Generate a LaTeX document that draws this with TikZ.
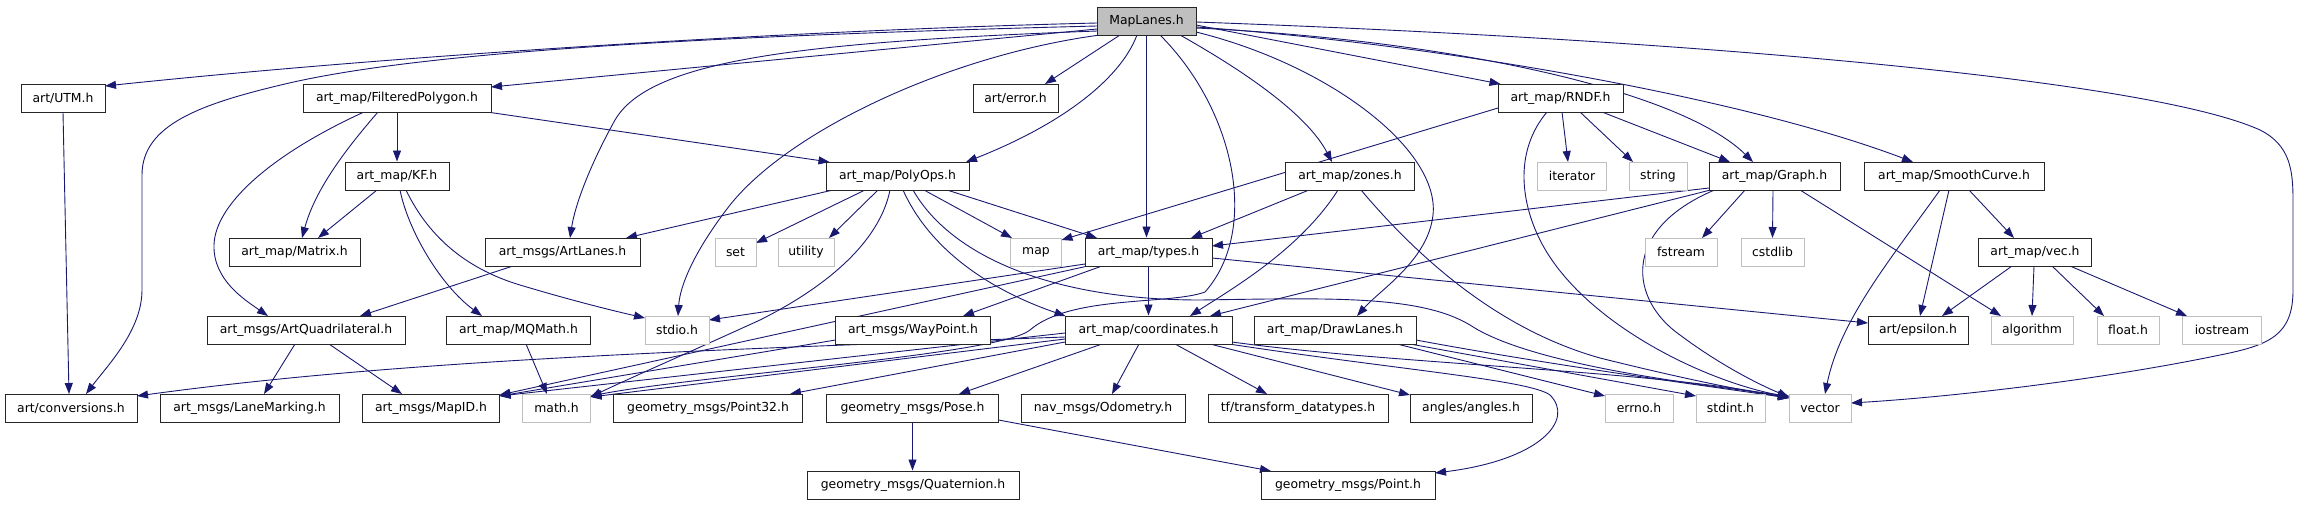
\documentclass[tikz,border=0pt]{standalone}
\usepackage{fontspec}
\setmainfont{DejaVu Sans}
\usetikzlibrary{arrows.meta,calc,backgrounds}
\definecolor{edgeblue}{HTML}{191970}
\definecolor{lightgr}{HTML}{BFBFBF}
\begin{document}
\begin{tikzpicture}[x=1pt,y=-1pt,
 every node/.style={font=\fontsize{12.4}{14}\selectfont},
 hbox/.style={draw=black!85, fill=white, line width=1pt, minimum height=28pt, inner sep=0pt},
 sbox/.style={draw=lightgr, fill=white, line width=1pt, minimum height=28pt, inner sep=0pt},
 rbox/.style={draw=black!85, fill=lightgr, line width=1pt, minimum height=28pt, inner sep=0pt},
 dep/.style={draw=edgeblue, line width=0.9pt, -{Triangle[length=11pt,width=8pt]}}
]
\useasboundingbox (0,0) rectangle (2305,504);
% row 0
\node[rbox, minimum width=99pt] (M) at (1146.5,21) {MapLanes.h};
% row 1
\node[hbox, minimum width=84pt] (utm) at (63,98) {art/UTM.h};
\node[hbox, minimum width=188pt] (fp) at (397,98) {art\_map/FilteredPolygon.h};
\node[hbox, minimum width=85pt] (err) at (1015.5,98) {art/error.h};
\node[hbox, minimum width=125pt] (rndf) at (1560.5,98) {art\_map/RNDF.h};
% row 2
\node[hbox, minimum width=104pt] (kf) at (397,176) {art\_map/KF.h};
\node[hbox, minimum width=143pt] (poly) at (897.5,176) {art\_map/PolyOps.h};
\node[hbox, minimum width=129pt] (zones) at (1350,176) {art\_map/zones.h};
\node[sbox, minimum width=69pt] (iter) at (1572,176) {iterator};
\node[sbox, minimum width=58pt] (string) at (1658,176) {string};
\node[hbox, minimum width=131pt] (graph) at (1774.5,176) {art\_map/Graph.h};
\node[hbox, minimum width=180pt] (sc) at (1954,176) {art\_map/SmoothCurve.h};
% row 3
\node[hbox, minimum width=131pt] (matrix) at (294.5,252) {art\_map/Matrix.h};
\node[hbox, minimum width=155pt] (artlanes) at (562.5,252) {art\_msgs/ArtLanes.h};
\node[sbox, minimum width=41pt] (set) at (735.5,252) {set};
\node[sbox, minimum width=56pt] (utility) at (806,252) {utility};
\node[sbox, minimum width=51pt] (map) at (1036,252) {map};
\node[hbox, minimum width=127pt] (types) at (1148.5,252) {art\_map/types.h};
\node[sbox, minimum width=72pt] (fstream) at (1681,252) {fstream};
\node[sbox, minimum width=63pt] (cstdlib) at (1772.5,252) {cstdlib};
\node[hbox, minimum width=113pt] (vec) at (2035,252) {art\_map/vec.h};
% row 4
\node[hbox, minimum width=198pt] (quad) at (306,330) {art\_msgs/ArtQuadrilateral.h};
\node[hbox, minimum width=144pt] (mqmath) at (518.5,330) {art\_map/MQMath.h};
\node[sbox, minimum width=64pt] (stdio) at (677,330) {stdio.h};
\node[hbox, minimum width=155pt] (waypoint) at (913,330) {art\_msgs/WayPoint.h};
\node[hbox, minimum width=167pt] (coord) at (1148.5,330) {art\_map/coordinates.h};
\node[hbox, minimum width=162pt] (draw) at (1335,330) {art\_map/DrawLanes.h};
\node[hbox, minimum width=100pt] (eps) at (1918,330) {art/epsilon.h};
\node[sbox, minimum width=82pt] (algo) at (2032,330) {algorithm};
\node[sbox, minimum width=62pt] (float) at (2128,330) {float.h};
\node[sbox, minimum width=79pt] (iostream) at (2222,330) {iostream};
% row 5
\node[hbox, minimum width=132pt] (conv) at (71,408) {art/conversions.h};
\node[hbox, minimum width=179pt] (lane) at (249.5,408) {art\_msgs/LaneMarking.h};
\node[hbox, minimum width=137pt] (mapid) at (431,408) {art\_msgs/MapID.h};
\node[sbox, minimum width=68pt] (math) at (556.5,408) {math.h};
\node[hbox, minimum width=189pt] (p32) at (708,408) {geometry\_msgs/Point32.h};
\node[hbox, minimum width=172pt] (pose) at (912.5,408) {geometry\_msgs/Pose.h};
\node[hbox, minimum width=164pt] (odom) at (1103,408) {nav\_msgs/Odometry.h};
\node[hbox, minimum width=180pt] (tf) at (1298,408) {tf/transform\_datatypes.h};
\node[hbox, minimum width=122pt] (angles) at (1471,408) {angles/angles.h};
\node[sbox, minimum width=68pt] (errno) at (1639,408) {errno.h};
\node[sbox, minimum width=69pt] (stdint) at (1730.5,408) {stdint.h};
\node[sbox, minimum width=62pt] (vector) at (1820,408) {vector};
% row 6
\node[hbox, minimum width=212pt] (quat) at (913,485) {geometry\_msgs/Quaternion.h};
\node[hbox, minimum width=174pt] (point) at (1348,485) {geometry\_msgs/Point.h};

\begin{scope}[on background layer]
% from MapLanes.h
\draw[dep] ($(M)+(-49.5,2)$) .. controls (800,30) and (400,55) .. ($(utm)+(42,-12)$);
\draw[dep] ($(M)+(-49.5,5)$) .. controls (700,36) and (420,52) .. (285,84) .. controls (200,104) and (142,125) .. (142,175) -- (142,290) .. controls (142,330) and (108,365) .. ($(conv)+(15,-14)$);
\draw[dep] ($(M)+(-49.5,8)$) -- ($(fp)+(94,-11)$);
\draw[dep] ($(M)+(-26.5,14)$) -- ($(err)+(29.5,-14)$);
\draw[dep] ($(M)+(-9.5,14)$) .. controls (1120,80) and (1060,125) .. ($(poly)+(68.5,-14)$);
\draw[dep] ($(M)+(-49.5,10)$) .. controls (800,42) and (650,60) .. (615,120) .. controls (590,165) and (575,205) .. ($(artlanes)+(7.5,-14)$);
\draw[dep] ($(M)+(-46.5,14)$) .. controls (950,55) and (790,130) .. (730,205) .. controls (695,250) and (680,285) .. ($(stdio)+(1,-14)$);
\draw[dep] (M.south) -- (M.south |- types.north);
\draw[dep] ($(M)+(13.5,14)$) .. controls (1235,110) and (1260,230) .. (1205,292) .. controls (1170,305) and (1070,295) .. (1030,330) .. controls (1000,355) and (700,375) .. ($(math)+(34,-12)$);
\draw[dep] ($(M)+(33.5,14)$) .. controls (1260,80) and (1310,120) .. ($(zones)+(-18,-14)$);
\draw[dep] ($(M)+(49.5,11)$) .. controls (1330,65) and (1440,150) .. (1433,215) .. controls (1428,260) and (1380,290) .. ($(draw)+(22,-14)$);
\draw[dep] ($(M)+(49.5,4)$) -- ($(rndf)+(-60,-14)$);
\draw[dep] ($(M)+(49.5,7)$) .. controls (1450,40) and (1680,90) .. ($(graph)+(-21.5,-14)$);
\draw[dep] ($(M)+(49.5,6)$) .. controls (1450,45) and (1750,100) .. ($(sc)+(-41,-14)$);
\draw[dep] ($(M)+(49.5,1)$) .. controls (1700,40) and (2150,80) .. (2260,130) .. controls (2290,145) and (2293,170) .. (2293,200) -- (2293,290) .. controls (2293,335) and (2270,345) .. (2220,355) .. controls (2100,380) and (1950,397) .. ($(vector)+(31,-5)$);
% UTM, FilteredPolygon, KF
\draw[dep] ($(utm)+(0,14)$) -- ($(conv)+(-2,-14)$);
\draw[dep] (fp.south) -- (kf.north);
\draw[dep] ($(fp)+(-19,14)$) .. controls (345,150) and (315,190) .. ($(matrix)+(7.5,-14)$);
\draw[dep] ($(fp)+(-33,14)$) .. controls (270,155) and (215,205) .. (214,245) .. controls (213,280) and (245,300) .. ($(quad)+(-38,-14)$);
\draw[dep] ($(fp)+(90,14)$) -- ($(poly)+(-68,-14)$);
\draw[dep] ($(kf)+(-20,14)$) -- ($(matrix)+(23.5,-14)$);
\draw[dep] ($(kf)+(3,14)$) .. controls (408,230) and (440,285) .. ($(mqmath)+(-36.5,-14)$);
\draw[dep] ($(kf)+(9,14)$) .. controls (430,240) and (470,270) .. (520,285) .. controls (570,300) and (610,310) .. ($(stdio)+(-32,-12)$);
\draw[dep] ($(artlanes)+(-49.5,14)$) -- ($(quad)+(54,-14)$);
\draw[dep] ($(quad)+(-11,14)$) -- ($(lane)+(14.5,-14)$);
\draw[dep] ($(quad)+(23,14)$) -- ($(mapid)+(-29,-14)$);
\draw[dep] ($(mqmath)+(7.5,14)$) -- ($(math)+(-9.5,-14)$);
% PolyOps
\draw[dep] ($(poly)+(-64.5,14)$) -- ($(artlanes)+(63.5,-14)$);
\draw[dep] ($(poly)+(-32.5,14)$) -- ($(set)+(20.5,-9)$);
\draw[dep] ($(poly)+(-19.5,14)$) -- ($(utility)+(23,-14)$);
\draw[dep] ($(poly)+(-7.5,14)$) .. controls (880,240) and (830,285) .. (760,320) .. controls (690,352) and (630,378) .. ($(math)+(34,-11)$);
\draw[dep] ($(poly)+(5.5,14)$) .. controls (930,250) and (990,290) .. ($(coord)+(-83,-14)$);
\draw[dep] ($(poly)+(15.5,14)$) .. controls (950,255) and (1050,300) .. (1200,300) .. controls (1330,298) and (1420,295) .. (1470,325) .. controls (1530,365) and (1700,385) .. ($(vector)+(-31,-12)$);
\draw[dep] ($(poly)+(26.5,14)$) -- ($(map)+(-24,-14)$);
\draw[dep] ($(poly)+(49.5,14)$) -- ($(types)+(-51.5,-14)$);
% RNDF
\draw[dep] ($(rndf)+(-62.5,10)$) -- ($(map)+(25.5,-12)$);
\draw[dep] ($(rndf)+(1.5,14)$) -- ($(iter)+(-4,-14)$);
\draw[dep] ($(rndf)+(19.5,14)$) -- ($(string)+(-25,-14)$);
\draw[dep] ($(rndf)+(41.5,14)$) -- ($(graph)+(-44.5,-14)$);
\draw[dep] ($(rndf)+(-13.5,14)$) .. controls (1515,150) and (1520,200) .. (1540,240) .. controls (1580,320) and (1700,380) .. ($(vector)+(-31,-11)$);
% zones
\draw[dep] ($(zones)+(-41,14)$) -- ($(types)+(42.5,-14)$);
\draw[dep] ($(zones)+(-12,14)$) .. controls (1300,250) and (1230,290) .. ($(coord)+(41.5,-14)$);
\draw[dep] ($(zones)+(11,14)$) .. controls (1420,260) and (1500,330) .. (1600,358) .. controls (1680,378) and (1740,390) .. ($(vector)+(-31,-10)$);
% Graph
\draw[dep] ($(graph)+(-65.5,12)$) -- ($(types)+(63.5,-6)$);
\draw[dep] ($(graph)+(-64,14)$) -- ($(coord)+(61.5,-14)$);
\draw[dep] ($(graph)+(-60,14)$) .. controls (1620,230) and (1630,300) .. (1680,335) .. controls (1720,365) and (1760,385) .. ($(vector)+(-31,-11)$);
\draw[dep] ($(graph)+(-29.5,14)$) -- ($(fstream)+(21,-14)$);
\draw[dep] ($(graph)+(-1.5,14)$) -- ($(cstdlib)+(0,-14)$);
\draw[dep] ($(graph)+(25.5,14)$) -- ($(algo)+(-31,-14)$);
% SmoothCurve, vec
\draw[dep] ($(sc)+(15,14)$) -- ($(vec)+(-21,-14)$);
\draw[dep] ($(sc)+(-5,14)$) -- ($(eps)+(2,-14)$);
\draw[dep] ($(sc)+(-14,14)$) .. controls (1890,260) and (1840,320) .. ($(vector)+(5,-14)$);
\draw[dep] ($(vec)+(-23,14)$) -- ($(eps)+(24,-14)$);
\draw[dep] ($(vec)+(-1,14)$) -- ($(algo)+(0,-14)$);
\draw[dep] ($(vec)+(17,14)$) -- ($(float)+(-24,-14)$);
\draw[dep] ($(vec)+(35,14)$) -- ($(iostream)+(-35,-14)$);
% types
\draw[dep] (types.south) -- (coord.north);
\draw[dep] ($(types)+(63.5,6)$) -- ($(eps)+(-50,-7)$);
\draw[dep] ($(types)+(-63.5,12)$) -- ($(stdio)+(32,-10)$);
\draw[dep] ($(types)+(-46.5,14)$) -- ($(waypoint)+(50,-14)$);
\draw[dep] ($(types)+(-60.5,14)$) -- ($(mapid)+(68.5,-13)$);
\draw[dep] ($(waypoint)+(-77.5,10)$) -- ($(mapid)+(68.5,-12)$);
% coordinates
\draw[dep] ($(coord)+(-83.5,7)$) .. controls (700,350) and (400,360) .. ($(conv)+(66,-12)$);
\draw[dep] ($(coord)+(-83.5,3)$) -- ($(mapid)+(68.5,-12)$);
\draw[dep] ($(coord)+(-83.5,9)$) -- ($(math)+(34,-11)$);
\draw[dep] ($(coord)+(-83.5,12)$) -- ($(p32)+(82,-14)$);
\draw[dep] ($(coord)+(-46.5,14)$) -- ($(pose)+(46.5,-14)$);
\draw[dep] ($(coord)+(-9.5,14)$) -- ($(odom)+(9,-14)$);
\draw[dep] ($(coord)+(26.5,14)$) -- ($(tf)+(-31,-14)$);
\draw[dep] ($(coord)+(61.5,14)$) -- ($(angles)+(-61,-13)$);
\draw[dep] ($(coord)+(80.5,14)$) .. controls (1400,370) and (1530,380) .. (1550,395) .. controls (1575,420) and (1540,460) .. ($(point)+(87,-12)$);
\draw[dep] ($(coord)+(83.5,12)$) .. controls (1400,365) and (1650,370) .. ($(vector)+(-31,-10)$);
% DrawLanes
\draw[dep] ($(draw)+(62,14)$) -- ($(errno)+(-34,-12)$);
\draw[dep] ($(draw)+(75,14)$) -- ($(stdint)+(-34.5,-12)$);
\draw[dep] ($(draw)+(81,10)$) .. controls (1550,365) and (1700,385) .. ($(vector)+(-31,-10)$);
% Pose
\draw[dep] (pose.south) -- (pose.south |- quat.north);
\draw[dep] ($(pose)+(86,12)$) -- ($(point)+(-77,-14)$);
\end{scope}
\end{tikzpicture}
\end{document}
